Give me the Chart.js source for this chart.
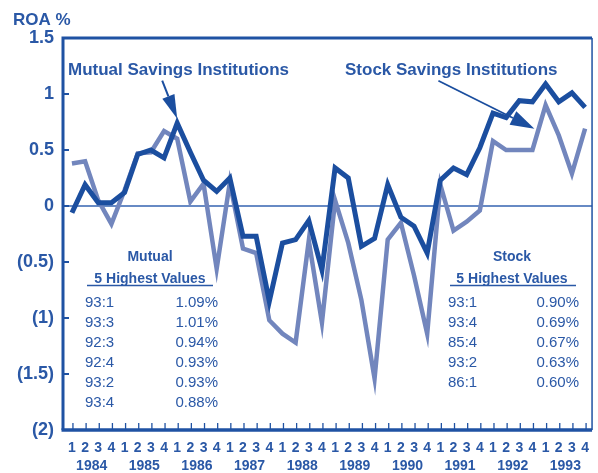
<!DOCTYPE html>
<html><head><meta charset="utf-8">
<script src="https://cdn.jsdelivr.net/npm/chart.js@4.4.1/dist/chart.umd.min.js"></script>
<style>html,body{margin:0;padding:0;background:#fff;}#wrap{width:598px;height:473px;}</style>
</head><body><div id="wrap"><canvas id="c" width="598" height="473"></canvas></div>
<script>
// ---- data ----
const years = [1984, 1985, 1986, 1987, 1988, 1989, 1990, 1991, 1992, 1993];
const quarterNames = ['1', '2', '3', '4'];
const mutual = [-0.06, 0.19, 0.03, 0.03, 0.12, 0.46, 0.50, 0.43, 0.74, 0.48,
                0.23, 0.13, 0.25, -0.27, -0.27, -0.85, -0.33, -0.30, -0.13, -0.57,
                0.34, 0.25, -0.36, -0.29, 0.19, -0.10, -0.18, -0.42, 0.23, 0.34,
                0.28, 0.52, 0.83, 0.79, 0.94, 0.93, 1.09, 0.93, 1.01, 0.88];
const stock = [0.38, 0.40, 0.05, -0.16, 0.14, 0.47, 0.48, 0.67, 0.60, 0.04,
               0.20, -0.56, 0.21, -0.38, -0.42, -1.02, -1.14, -1.22, -0.31, -1.04,
               0.05, -0.33, -0.84, -1.54, -0.30, -0.15, -0.62, -1.14, 0.19, -0.22,
               -0.14, -0.04, 0.58, 0.50, 0.50, 0.50, 0.90, 0.63, 0.29, 0.69];
const yTicks = [1.5, 1, 0.5, 0, -0.5, -1, -1.5, -2];
const mutualTopPeriods = ['93:1', '93:3', '92:3', '92:4', '93:2', '93:4'];
const mutualTopValues = ['1.09%', '1.01%', '0.94%', '0.93%', '0.93%', '0.88%'];
const stockTopPeriods = ['93:1', '93:4', '85:4', '93:2', '86:1'];
const stockTopValues = ['0.90%', '0.69%', '0.67%', '0.63%', '0.60%'];

// ---- styles ----
const FONT = '"Liberation Sans", Arial, Helvetica, sans-serif';
const TXT = '#2a58a6';
const MUT = '#1b4e9f';
const STK = '#7286bd';
const FRAME = '#1f52a3';

function fmtY(v) { return v < 0 ? '(' + Math.abs(v) + ')' : String(v); }

function arrow(ctx, x0, y0, x1, y1, headLen, headW, lw) {
  const a = Math.atan2(y1 - y0, x1 - x0);
  const bx = x1 - headLen * Math.cos(a), by = y1 - headLen * Math.sin(a);
  ctx.beginPath(); ctx.moveTo(x0, y0); ctx.lineTo(bx, by);
  ctx.lineWidth = lw; ctx.stroke();
  ctx.beginPath();
  ctx.moveTo(x1, y1);
  ctx.lineTo(bx + headW * Math.sin(a), by - headW * Math.cos(a));
  ctx.lineTo(bx - headW * Math.sin(a), by + headW * Math.cos(a));
  ctx.closePath(); ctx.fill();
}

const deco = {
  id: 'deco',
  beforeDatasetsDraw(chart) {
    const {ctx, chartArea: a, scales: {y}} = chart;
    ctx.save();
    ctx.strokeStyle = '#3563b0'; ctx.lineWidth = 1.3;
    const y0 = y.getPixelForValue(0);
    ctx.beginPath(); ctx.moveTo(a.left, y0); ctx.lineTo(a.right, y0); ctx.stroke();
    ctx.restore();
  },
  afterDraw(chart) {
    const {ctx, chartArea: a, scales: {x, y}} = chart;
    ctx.save();
    // frame
    ctx.strokeStyle = FRAME;
    ctx.lineWidth = 3;
    ctx.beginPath(); ctx.moveTo(a.left, a.bottom); ctx.lineTo(a.left, a.top); ctx.lineTo(a.right, a.top); ctx.stroke();
    ctx.lineWidth = 3.5;
    ctx.beginPath(); ctx.moveTo(a.left - 1.5, a.bottom); ctx.lineTo(a.right, a.bottom); ctx.stroke();
    ctx.lineWidth = 1.5;
    ctx.beginPath(); ctx.moveTo(a.right, a.top); ctx.lineTo(a.right, a.bottom); ctx.stroke();
    // y ticks (inward)
    ctx.lineWidth = 2;
    yTicks.forEach(v => {
      const p = y.getPixelForValue(v);
      ctx.beginPath(); ctx.moveTo(a.left, p); ctx.lineTo(a.left + 6, p); ctx.stroke();
    });
    // x ticks (inward)
    ctx.lineWidth = 1.3;
    for (let i = 0; i < years.length * 4; i++) {
      const p = x.getPixelForValue(i) + 1;
      ctx.beginPath(); ctx.moveTo(p, a.bottom); ctx.lineTo(p, a.bottom - 7); ctx.stroke();
    }
    // title
    ctx.fillStyle = TXT;
    ctx.font = 'bold 17px ' + FONT;
    ctx.textAlign = 'left'; ctx.textBaseline = 'alphabetic';
    ctx.fillText('ROA %', 13, 25);
    // annotations
    ctx.font = 'bold 17px ' + FONT;
    ctx.fillText('Mutual Savings Institutions', 68, 75);
    ctx.fillText('Stock Savings Institutions', 345, 75);
    ctx.strokeStyle = MUT; ctx.fillStyle = MUT;
    const mx = x.getPixelForValue(8), my = y.getPixelForValue(0.78);
    arrow(ctx, mx - 15, my - 38, mx, my, 24, 6.5, 2);
    const sx = x.getPixelForValue(35.15), sy = y.getPixelForValue(0.69);
    arrow(ctx, sx - 96, sy - 48, sx, sy, 24, 7.5, 1.8);
    // tables
    ctx.fillStyle = TXT; ctx.strokeStyle = TXT;
    function table(cx, lx, rx, uy0, uy1, title, periods, values) {
      ctx.font = 'bold 14px ' + FONT; ctx.textAlign = 'center';
      ctx.fillText(title, cx, 261);
      ctx.fillText('5 Highest Values', cx, 283);
      ctx.lineWidth = 1.5;
      ctx.beginPath(); ctx.moveTo(uy0, 285.5); ctx.lineTo(uy1, 285.5); ctx.stroke();
      ctx.font = '15px ' + FONT;
      periods.forEach((p, i) => {
        const by = 307 + i * 20;
        ctx.textAlign = 'left'; ctx.fillText(p, lx, by);
        ctx.textAlign = 'right'; ctx.fillText(values[i], rx, by);
      });
    }
    table(150, 85, 218, 87, 213, 'Mutual', mutualTopPeriods, mutualTopValues);
    table(512, 448, 579, 450, 576, 'Stock', stockTopPeriods, stockTopValues);
    ctx.restore();
  }
};

const xTickList = [];
for (let i = 0; i < years.length * 4; i++) xTickList.push(i);
years.forEach((yr, k) => xTickList.push(4 * k + 1.5));
xTickList.sort((p, q) => p - q);

new Chart(document.getElementById('c').getContext('2d'), {
  type: 'line',
  data: {
    datasets: [
      { label: 'Mutual', data: mutual.map((v, i) => ({x: i, y: v})), borderColor: MUT, borderWidth: 5,
        pointRadius: 0, tension: 0, borderJoinStyle: 'miter', fill: false },
      { label: 'Stock', data: stock.map((v, i) => ({x: i, y: v})), borderColor: STK, borderWidth: 4.5,
        pointRadius: 0, tension: 0, borderJoinStyle: 'miter', fill: false }
    ]
  },
  options: {
    responsive: false, animation: false, events: [],
    layout: { padding: { left: 0, top: 38, right: 2, bottom: 0 } },
    plugins: { legend: { display: false }, tooltip: { enabled: false } },
    scales: {
      x: {
        type: 'linear', min: -0.68, max: 39.53,
        grid: { display: false, drawTicks: false }, border: { display: false },
        afterBuildTicks: s => { s.ticks = xTickList.map(v => ({value: v})); },
        afterFit: s => { s.height = 43; },
        ticks: {
          autoSkip: false, maxRotation: 0, minRotation: 0, padding: 9, color: TXT,
          font: { family: FONT, size: 14, weight: 'bold', lineHeight: '18px' },
          callback: v => Number.isInteger(v) ? [quarterNames[v % 4], ''] : ['', String(years[(v - 1.5) / 4])]
        }
      },
      y: {
        min: -2, max: 1.5,
        grid: { display: false, drawTicks: false }, border: { display: false },
        afterBuildTicks: s => { s.ticks = yTicks.map(v => ({value: v})); },
        afterFit: s => { s.width = 63; },
        ticks: { padding: 9, color: TXT, font: { family: FONT, size: 18, weight: 'bold' }, callback: v => fmtY(v) }
      }
    }
  },
  plugins: [deco]
});
</script>
</body></html>
